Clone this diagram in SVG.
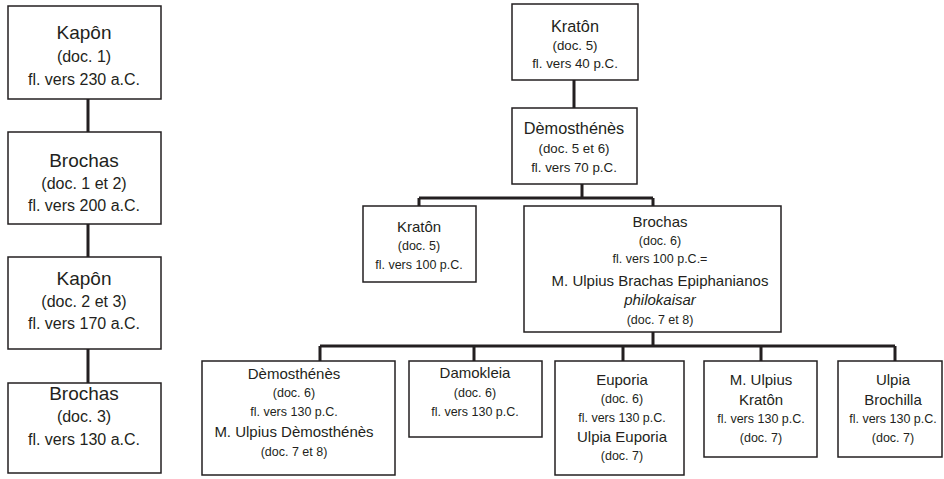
<svg xmlns="http://www.w3.org/2000/svg" width="944" height="479" viewBox="0 0 944 479">
<style>
.box{fill:#fff;stroke:#231f20;stroke-width:1.5}
.ln{fill:none;stroke:#231f20;stroke-width:3}
text{font-family:"Liberation Sans",Arial,sans-serif;fill:#231f20;text-anchor:middle}
.t1{font-size:19px}.s1{font-size:16px}
.t2{font-size:16.3px}.s2{font-size:13.3px}
.t3{font-size:15px}.s3{font-size:12.5px}
.i{font-style:italic}
</style>
<rect width="944" height="479" fill="#fff"/>
<g id="connectors">
<path class="ln" d="M88 99V132M88 224V257M88 349V383"/>
<path class="ln" d="M574 80V108M582 184V198M419 198H653M419 198V206M653 198V206"/>
<path class="ln" d="M653 332V346M320 346H895M320 346V361M474 346V361M623 346V361M761 346V361M895 346V361"/>
</g>
<g id="n1"><rect class="box" x="8" y="6" width="153" height="93"/>
<text x="84" y="39" class="t1">Kapôn</text><text x="84" y="62" class="s1">(doc. 1)</text><text x="84" y="85" class="s1">fl. vers 230 a.C.</text></g>
<g id="n2"><rect class="box" x="8" y="132" width="153" height="92"/>
<text x="84" y="167" class="t1">Brochas</text><text x="84" y="189" class="s1">(doc. 1 et 2)</text><text x="84" y="211" class="s1">fl. vers 200 a.C.</text></g>
<g id="n3"><rect class="box" x="8" y="257" width="153" height="92"/>
<text x="84" y="285" class="t1">Kapôn</text><text x="84" y="307" class="s1">(doc. 2 et 3)</text><text x="84" y="329" class="s1">fl. vers 170 a.C.</text></g>
<g id="n4"><rect class="box" x="8" y="383" width="153" height="90"/>
<text x="84" y="400" class="t1">Brochas</text><text x="84" y="422" class="s1">(doc. 3)</text><text x="84" y="445" class="s1">fl. vers 130 a.C.</text></g>
<g id="r1"><rect class="box" x="512" y="4" width="126" height="76"/>
<text x="575" y="32" class="t2">Kratôn</text><text x="575" y="50" class="s2">(doc. 5)</text><text x="575" y="68" class="s2">fl. vers 40 p.C.</text></g>
<g id="r2"><rect class="box" x="512" y="108" width="125" height="76"/>
<text x="574" y="134" class="t2">Dèmosthénès</text><text x="574" y="153" class="s2">(doc. 5 et 6)</text><text x="574" y="172" class="s2">fl. vers 70 p.C.</text></g>
<g id="r3"><rect class="box" x="363" y="206" width="113" height="76"/>
<text x="419" y="232" class="t3">Kratôn</text><text x="419" y="250" class="s3">(doc. 5)</text><text x="419" y="269" class="s3">fl. vers 100 p.C.</text></g>
<g id="r4"><rect class="box" x="524" y="206" width="257" height="126"/>
<text x="660" y="227" class="t3">Brochas</text><text x="660" y="245" class="s3">(doc. 6)</text><text x="660" y="263" class="s3">fl. vers 100 p.C.=</text>
<text x="660" y="286" class="t3">M. Ulpius Brachas Epiphanianos</text><text x="660" y="305" class="t3 i">philokaisar</text><text x="660" y="324" class="s3">(doc. 7 et 8)</text></g>
<g id="b1"><rect class="box" x="202" y="361" width="193" height="114"/>
<text x="294" y="379" class="t3">Dèmosthénès</text><text x="294" y="397" class="s3">(doc. 6)</text><text x="294" y="416" class="s3">fl. vers 130 p.C.</text>
<text x="294" y="437" class="t3">M. Ulpius Dèmosthénès</text><text x="294" y="456" class="s3">(doc. 7 et 8)</text></g>
<g id="b2"><rect class="box" x="409" y="361" width="133" height="76"/>
<text x="475" y="378" class="t3">Damokleia</text><text x="475" y="397" class="s3">(doc. 6)</text><text x="475" y="416" class="s3">fl. vers 130 p.C.</text></g>
<g id="b3"><rect class="box" x="555" y="361" width="129" height="114"/>
<text x="622" y="385" class="t3">Euporia</text><text x="622" y="403" class="s3">(doc. 6)</text><text x="622" y="422" class="s3">fl. vers 130 p.C.</text>
<text x="622" y="442" class="t3">Ulpia Euporia</text><text x="622" y="460" class="s3">(doc. 7)</text></g>
<g id="b4"><rect class="box" x="704" y="361" width="113" height="96"/>
<text x="761" y="385" class="t3">M. Ulpius</text><text x="761" y="405" class="t3">Kratôn</text><text x="761" y="423" class="s3">fl. vers 130 p.C.</text><text x="761" y="442" class="s3">(doc. 7)</text></g>
<g id="b5"><rect class="box" x="838" y="361" width="104" height="96"/>
<text x="893" y="385" class="t3">Ulpia</text><text x="893" y="405" class="t3">Brochilla</text><text x="893" y="423" class="s3">fl. vers 130 p.C.</text><text x="893" y="442" class="s3">(doc. 7)</text></g>
</svg>
